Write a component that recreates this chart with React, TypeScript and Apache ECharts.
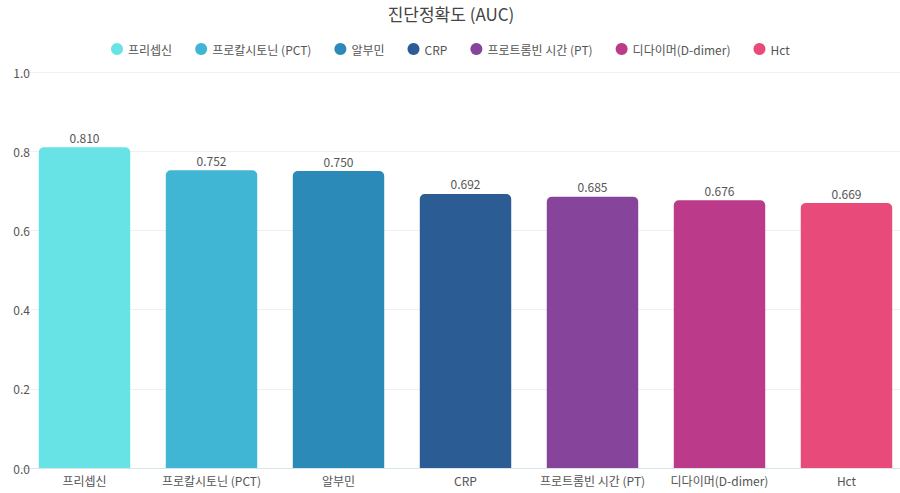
import React, { useEffect, useRef } from "react";
import * as echarts from "echarts";

const titleText = "진단정확도 (AUC)";
const categories = ["프리셉신", "프로칼시토닌 (PCT)", "알부민", "CRP", "프로트롬빈 시간 (PT)", "디다이머(D-dimer)", "Hct"];
const aucValues = [0.81, 0.752, 0.75, 0.692, 0.685, 0.676, 0.669];
const barColors = ["#67E3E6", "#40B6D4", "#2B8AB8", "#2B5D94", "#86449A", "#BB3A8A", "#E84A79"];
const yTicks = { min: 0, max: 1, interval: 0.2 };

const FONT = "'Noto Sans CJK KR', 'Noto Sans', sans-serif";

export default function App() {
  const ref = useRef<HTMLDivElement>(null);
  useEffect(() => {
    document.body.style.margin = "0";
    document.body.style.overflow = "hidden";
    if (!ref.current) return;
    const chart = echarts.init(ref.current, null, { renderer: "svg" });
    const series = categories.map((name, i) => ({
      name,
      type: "bar",
      stack: "all",
      barWidth: "72%",
      data: categories.map((_, j) => (j === i ? aucValues[i] : null)),
      itemStyle: { color: barColors[i], borderRadius: [5, 5, 0, 0] },
      label: {
        show: true,
        position: "top",
        distance: 4,
        formatter: (p: any) => (p.value == null ? "" : Number(p.value).toFixed(3)),
        color: "#555",
        fontSize: 12,
        fontFamily: FONT,
      },
    }));
    chart.setOption({
      animation: false,
      textStyle: { fontFamily: FONT },
      title: {
        text: titleText,
        left: 446,
        textAlign: "center",
        top: 0,
        textStyle: { fontSize: 17, fontWeight: "normal", color: "#444", fontFamily: FONT },
      },
      legend: {
        top: 38,
        left: 106,
        icon: "circle",
        itemWidth: 12,
        itemHeight: 12,
        itemGap: 23,
        textStyle: { fontSize: 12, color: "#555", fontFamily: FONT },
        data: categories,
      },
      grid: { left: 21, width: 889, top: 72, bottom: 25, containLabel: false },
      xAxis: {
        type: "category",
        data: categories,
        axisTick: { show: false },
        axisLine: { lineStyle: { color: "#d6e6ea" } },
        axisLabel: { color: "#555", fontSize: 12, margin: 6, fontFamily: FONT, interval: 0 },
      },
      yAxis: {
        type: "value",
        min: yTicks.min,
        max: yTicks.max,
        interval: yTicks.interval,
        axisLabel: {
          color: "#555",
          fontSize: 12,
          margin: -9,
          fontFamily: FONT,
          formatter: (v: number) => v.toFixed(1),
        },
        splitLine: { lineStyle: { color: "#f0f0f0" } },
        axisLine: { show: false },
        axisTick: { show: false },
      },
      series,
    });
    return () => chart.dispose();
  }, []);
  return (
    <div style={{ width: 900, height: 493, overflow: "hidden" }}>
      <div ref={ref} style={{ width: 912, height: 493 }} />
    </div>
  );
}
